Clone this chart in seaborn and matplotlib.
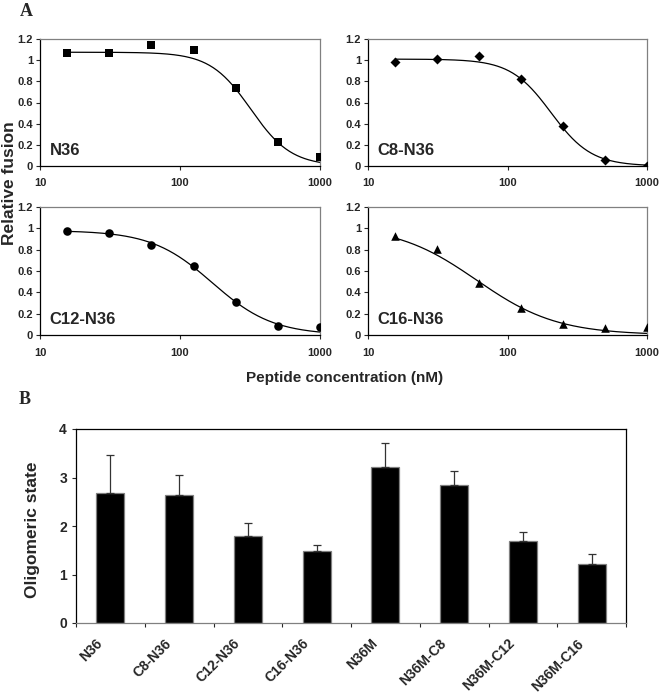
import numpy as np
import pandas as pd
import matplotlib
matplotlib.use('Agg')
import matplotlib.pyplot as plt
import matplotlib.transforms as mtransforms
import seaborn as sns

# Panel A data: 2-fold dilutions of peptide (nM)
conc = [15.625, 31.25, 62.5, 125, 250, 500, 1000]
fusion_n36 = [1.068, 1.068, 1.143, 1.093, 0.740, 0.224, 0.082]
fusion_c8 = [0.986, 1.014, 1.043, 0.819, 0.378, 0.057, 0.002]
fusion_c12 = [0.972, 0.956, 0.841, 0.644, 0.306, 0.084, 0.072]
fusion_c16 = [0.925, 0.803, 0.488, 0.253, 0.100, 0.069, 0.072]
peptides_a = ['N36', 'C8-N36', 'C12-N36', 'C16-N36']
markers_a = ['s', 'D', 'o', '^']
# fitted dose-response curves (top, IC50, hill)
fit_top = [1.075, 1.01, 0.98, 1.03]
fit_ic50 = [320, 205, 170, 60]
fit_hill = [3.0, 3.0, 2.0, 1.5]

# Panel B data
peptides_b = ['N36', 'C8-N36', 'C12-N36', 'C16-N36', 'N36M', 'N36M-C8', 'N36M-C12', 'N36M-C16']
olig = [2.69, 2.64, 1.80, 1.49, 3.21, 2.84, 1.69, 1.21]
olig_err = [0.78, 0.41, 0.26, 0.11, 0.51, 0.30, 0.19, 0.21]

sns.set_style('white')
plt.rcParams['font.family'] = ['Liberation Sans', 'DejaVu Sans']
plt.rcParams['font.weight'] = 'bold'

fig = plt.figure(figsize=(6.61, 6.98), dpi=100)
W, H = 661, 698

def pix_axes(x0, y0, x1, y1):
    return fig.add_axes([x0 / W, 1 - y1 / H, (x1 - x0) / W, (y1 - y0) / H])

boxes = [(40, 39, 320, 166), (368, 39, 647, 166), (40, 207, 320, 335), (368, 207, 647, 335)]
fusion = [fusion_n36, fusion_c8, fusion_c12, fusion_c16]

for i, (name, mk) in enumerate(zip(peptides_a, markers_a)):
    ax = pix_axes(*boxes[i])
    xs = np.logspace(np.log10(conc[0]), np.log10(conc[-1]), 200)
    ys = fit_top[i] / (1 + (xs / fit_ic50[i]) ** fit_hill[i])
    sns.lineplot(x=xs, y=ys, ax=ax, color='black', linewidth=0.9)
    sns.scatterplot(x=conc, y=fusion[i], ax=ax, marker=mk, color='black',
                    s=38 if mk != 'D' else 26, edgecolor='black', linewidth=0, zorder=5)
    ax.set_xscale('log')
    ax.set_xlim(10, 1000)
    ax.set_ylim(0, 1.2)
    ax.set_xticks([10, 100, 1000])
    ax.set_xticklabels(['10', '100', '1000'])
    ax.xaxis.set_minor_locator(matplotlib.ticker.NullLocator())
    ax.set_yticks([0, 0.2, 0.4, 0.6, 0.8, 1.0, 1.2])
    ax.set_yticklabels(['0', '0.2', '0.4', '0.6', '0.8', '1', '1.2'])
    ax.tick_params(axis='both', labelsize=8, length=3, width=0.8, direction='out',
                   bottom=True, left=True, pad=2)
    ax.tick_params(axis='x', pad=6)
    for s in ['left', 'bottom']:
        ax.spines[s].set_color('black')
        ax.spines[s].set_linewidth(0.9)
    for s in ['top', 'right']:
        ax.spines[s].set_color('#808080')
        ax.spines[s].set_linewidth(0.9)
    ax.set_xlabel('')
    ax.set_ylabel('')
    ax.text(0.035, 0.06, name, transform=ax.transAxes, fontsize=12, fontweight='bold',
            ha='left', va='bottom')

fig.text(10 / W, 1 - 183 / H, 'Relative fusion', rotation=90, fontsize=12.5,
         fontweight='bold', ha='center', va='center')
fig.text(345 / W, 1 - 378 / H, 'Peptide concentration (nM)', fontsize=11,
         fontweight='bold', ha='center', va='center')
fig.text(26 / W, 1 - 11 / H, 'A', fontsize=13, fontweight='bold',
         family='Liberation Serif', ha='center', va='center')
fig.text(25 / W, 1 - 400 / H, 'B', fontsize=13, fontweight='bold',
         family='Liberation Serif', ha='center', va='center')

# Panel B
axb = pix_axes(76, 429, 626, 623)
df = pd.DataFrame({'peptide': peptides_b, 'olig': olig})
sns.barplot(data=df, x='peptide', y='olig', ax=axb, color='black', width=0.41,
            edgecolor='#808080', linewidth=0.9, saturation=1)
axb.errorbar(range(len(olig)), olig, yerr=[np.zeros(len(olig)), olig_err], fmt='none',
             ecolor='#333333', elinewidth=0.9, capsize=3, capthick=0.9)
axb.set_xlim(-0.5, len(olig) - 0.5)
axb.set_ylim(0, 4)
axb.set_yticks([0, 1, 2, 3, 4])
axb.set_xticks(np.arange(len(olig)))
axb.set_xticklabels(peptides_b, rotation=45, ha='right', rotation_mode='anchor',
                    fontsize=10, fontweight='bold')
axb.xaxis.set_minor_locator(matplotlib.ticker.FixedLocator(np.arange(-0.5, len(olig), 1)))
axb.tick_params(axis='x', which='major', length=0, pad=14)
axb.tick_params(axis='x', which='minor', length=3, width=0.8, direction='out', bottom=True)
axb.tick_params(axis='y', labelsize=10, length=3, width=0.8, direction='out', left=True)
# nudge the rotated labels left/up like the original
shift = mtransforms.ScaledTranslation(-15 / 100, 6 / 100, fig.dpi_scale_trans)
for lab in axb.get_xticklabels():
    lab.set_transform(lab.get_transform() + shift)
for s in ['left', 'top', 'right']:
    axb.spines[s].set_color('black')
    axb.spines[s].set_linewidth(0.9)
axb.spines['bottom'].set_color('#808080')
axb.spines['bottom'].set_linewidth(0.9)
axb.set_xlabel('')
axb.set_ylabel('')
fig.text(33 / W, 1 - 530 / H, 'Oligomeric state', rotation=90, fontsize=12.5,
         fontweight='bold', ha='center', va='center')

fig.savefig('out.png', dpi=100)
